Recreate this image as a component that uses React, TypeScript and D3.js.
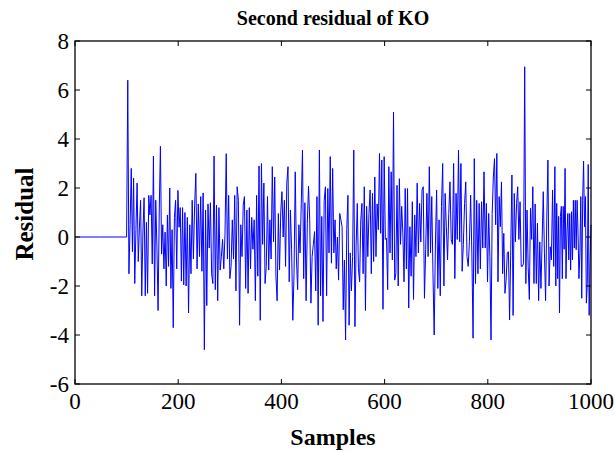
import React from "react";
import * as d3 from "d3";

const titleText = "Second residual of KO";
const xLabel = "Samples";
const yLabel = "Residual";
const xTicks = [0, 200, 400, 600, 800, 1000];
const yTicks = [-6, -4, -2, 0, 2, 4, 6, 8];

// sample index where each segment of readings begins (last entry = final sample)
const segmentBounds = [0, 100, 213, 359, 504, 649, 795, 930, 1000];

const flatStart = [0, 0];
const residualA = [0, 6.4, -1.5, 0.5, 2.8, -0.6, 2.4, -1.9, 0.3, 2.2, -1.0, 0.4, 1.5, -2.4, 0.2, 1.6, -2.4, 0.6, -2.3, 1.7, 0.9, 1.7, -1.1, 3.3, -2.4, 1.5, -0.4, -3.0, 1.1, 3.7, -0.7, 0.5, -1.3, 0.2, -2.0, 0.9, -1.2, 2.0, -2.1, 0.3, -3.7, 0.8, 1.5, -1.3, 1.9, 0.4, 1.2, -1.8, 1.2, -1.95];
const residualB = [1.0, -2.0, 0.8, -3.1, 0.5, -1.5, 1.5, -0.9, 1.3, 2.6, -1.3, 1.35, -0.8, 1.65, -1.4, 1.8, -4.6, 1.1, -2.8, 1.35, -0.45, 1.4, -1.5, -1.9, 3.3, -2.15, 1.3, -2.6, 1.2, -1.35, -0.8, -0.1, -1.3, 0.15, 3.4, -0.9, 1.7, -1.7, -1.2, 0.7, -0.9, 1.7, -2.2, 2.05, 1.5, -3.6, 0.5, -0.8, 1.3, 1.65, -2.1, 1.1, -2.3, 1.2, -1.3, 0.8, -0.5, 0.7, -2.6, 1.7, -1.6, 2.9];
const residualC = [-3.4, 3.0, -0.3, 2.2, -1.9, -1.2, 1.65, -1.35, 0.7, -0.9, 2.87, -0.2, 2.45, -1.6, -2.6, 0.96, -1.35, 1.03, 1.85, 0.0, 1.5, -1.2, 2.2, 2.87, -1.83, 1.1, -0.5, -3.4, -1.5, 2.66, -0.9, -2.15, 0.5, -0.65, 1.37, 3.55, -1.7, 1.4, -2.6, 0.56, 2.08, 0.7, -2.7, -0.8, -0.3, 0.22, -2.2, 1.65, -3.6, 3.55, -2.4, 0.84, -3.45, 1.5, 2.05, -2.4, 1.98, -0.65, 3.28, -1.07, 2.8, -0.65];
const residualD = [0.7, -1.3, 0.0, -1.76, 0.96, 0.7, 0.42, -2.97, -0.94, -4.2, 0.3, 1.7, -3.6, -0.65, -2.2, -0.8, 3.55, -3.66, -0.4, 1.37, -1.3, -1.83, 0.7, 1.37, -1.5, 2.05, -3.0, 1.25, -0.8, 0.96, 1.92, -1.5, 1.78, -1.0, 2.45, -0.8, 1.35, 0.3, 3.41, 0.15, 3.14, -2.95, 3.28, -0.1, -0.05, -2.15, 2.87, -0.65, 2.66, -0.94, 5.1, -1.76, -1.5, 2.11, -2.0, 2.38, -0.3, 1.25, 0.15, -1.83, 1.98, -1.3, 1.98, -2.9];
const residualE = [0.42, -1.6, 1.44, -2.55, 0.9, -0.8, 2.2, -0.65, 1.37, -0.2, 1.92, 2.05, -2.5, -0.52, 1.78, -0.8, 2.87, -0.65, 1.65, -1.5, -4.0, -0.33, 1.92, -2.1, 0.7, -2.4, 1.25, 3.0, -2.0, 1.78, 0.42, -0.94, 0.96, 2.25, -0.1, -0.3, 3.0, -1.7, 1.78, -0.1, 3.55, -0.2, 3.0, -1.4, -0.3, 1.37, 2.25, -0.8, -1.2, -0.19, 1.71, -0.65, -4.13, 3.2, -1.9, 1.5, -1.5, 1.37, -1.3, 1.44, -0.45, 2.66];
const residualF = [-0.45, 1.37, -1.83, 0.96, -0.8, -4.2, 0.96, 2.45, 3.2, 0.5, 3.41, -1.83, 1.65, 0.42, 2.25, -1.5, 0.15, -2.3, -1.76, -0.65, -0.6, -3.39, -0.5, 2.53, -3.2, 1.78, -0.2, 1.37, 2.05, -0.1, 1.44, -1.2, -1.2, -1.07, 6.95, -1.9, 1.1, -1.2, -2.55, 1.17, -0.1, 2.05, -1.9, 1.35, -1.9, 0.56, -2.6, -0.2, -2.1, -0.2, 1.85, -0.65, -2.6, 0.7, 3.14, -2.0, -0.4, -0.94, 1.92, -1.2];
const residualG = [2.87, -2.0, 1.37, -1.7, 0.84, -3.1, 0.84, 1.25, -1.7, 1.25, -0.5, 2.8, -1.7, 0.15, 0.96, -0.94, 0.96, -1.35, 1.03, -0.94, 1.5, -0.45, 1.5, -0.52, 1.5, 0.15, -1.7, -0.65, 1.65, -2.5, 1.5, 3.1, 0.42, 1.65, -2.7, -1.9, 2.96, -3.2, -0.94, 0.5];

const segments = [flatStart, residualA, residualB, residualC, residualD, residualE, residualF, residualG];

function buildSeries(): [number, number][] {
  const pts: [number, number][] = [];
  segments.forEach((vals, k) => {
    const s = segmentBounds[k];
    const e = segmentBounds[k + 1];
    const last = k === segments.length - 1;
    const step = (e - s) / (last ? vals.length - 1 : vals.length);
    vals.forEach((v, i) => pts.push([s + i * step, v]));
  });
  return pts;
}

const W = 615;
const H = 452;
const M = { left: 75, right: 591, top: 41, bottom: 384 };
const FONT = "'Liberation Serif', 'Times New Roman', serif";

export default function App() {
  const x = d3.scaleLinear().domain([0, 1000]).range([M.left, M.right]);
  const y = d3.scaleLinear().domain([-6, 8]).range([M.bottom, M.top]);
  const series = buildSeries();
  const line = d3
    .line<[number, number]>()
    .x((d) => x(d[0]))
    .y((d) => y(d[1]));
  const tick = 5;
  const cx = (M.left + M.right) / 2;

  return (
    <div style={{ position: "fixed", left: 0, top: 0 }}>
      <svg width={W} height={H} style={{ display: "block", background: "#fff" }}>
        <rect x={0} y={0} width={W} height={H} fill="#fff" />
        <path d={line(series) || ""} fill="none" stroke="#0000ff" strokeWidth={1} />
        <rect
          x={M.left}
          y={M.top}
          width={M.right - M.left}
          height={M.bottom - M.top}
          fill="none"
          stroke="#000"
          strokeWidth={1.3}
        />
        {xTicks.map((t) => (
          <g key={"x" + t}>
            <line x1={x(t)} x2={x(t)} y1={M.bottom} y2={M.bottom - tick} stroke="#000" strokeWidth={1} />
            <line x1={x(t)} x2={x(t)} y1={M.top} y2={M.top + tick} stroke="#000" strokeWidth={1} />
            <text x={x(t)} y={M.bottom + 25} textAnchor="middle" fontFamily={FONT} fontSize={23} fill="#000">
              {t}
            </text>
          </g>
        ))}
        {yTicks.map((t) => (
          <g key={"y" + t}>
            <line x1={M.left} x2={M.left + tick} y1={y(t)} y2={y(t)} stroke="#000" strokeWidth={1} />
            <line x1={M.right} x2={M.right - tick} y1={y(t)} y2={y(t)} stroke="#000" strokeWidth={1} />
            <text
              x={M.left - 6}
              y={y(t)}
              dy="0.35em"
              textAnchor="end"
              fontFamily={FONT}
              fontSize={23}
              fill="#000"
            >
              {t}
            </text>
          </g>
        ))}
        <text x={cx} y={25} textAnchor="middle" fontFamily={FONT} fontWeight="bold" fontSize={20} fill="#000">
          {titleText}
        </text>
        <text x={cx} y={445} textAnchor="middle" fontFamily={FONT} fontWeight="bold" fontSize={24} fill="#000">
          {xLabel}
        </text>
        <text
          transform={`translate(33,214) rotate(-90)`}
          textAnchor="middle"
          fontFamily={FONT}
          fontWeight="bold"
          fontSize={25}
          fill="#000"
        >
          {yLabel}
        </text>
      </svg>
    </div>
  );
}
